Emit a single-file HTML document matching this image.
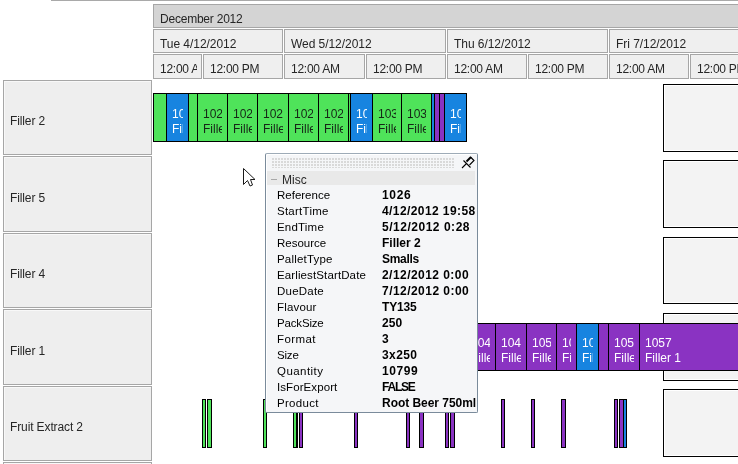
<!DOCTYPE html>
<html><head><meta charset="utf-8"><style>
html,body{margin:0;padding:0;}
body{width:738px;height:464px;overflow:hidden;position:relative;background:#fff;font-family:"Liberation Sans", sans-serif;}
.t{will-change:transform;}
</style></head><body>
<div style="position:absolute;left:51px;top:0;width:687px;height:1px;background:#a9a9a9"></div>
<div style="position:absolute;left:153px;top:4px;width:608px;height:24px;box-sizing:border-box;background:#d4d4d4;border:1px solid #a6a6a6;"></div>
<div class="t" style="position:absolute;left:160px;top:12px;height:14px;line-height:14px;font-size:12px;color:#262626;font-weight:normal;white-space:nowrap;letter-spacing:-0.22px;">December 2012</div>
<div style="position:absolute;left:153px;top:29px;width:130px;height:24px;box-sizing:border-box;background:#efefef;border:1px solid #a6a6a6;"></div>
<div class="t" style="position:absolute;left:160px;top:37px;height:14px;line-height:14px;font-size:12px;color:#262626;font-weight:normal;white-space:nowrap;letter-spacing:-0.05px;width:119px;overflow:hidden;">Tue 4/12/2012</div>
<div style="position:absolute;left:284px;top:29px;width:162px;height:24px;box-sizing:border-box;background:#efefef;border:1px solid #a6a6a6;"></div>
<div class="t" style="position:absolute;left:291px;top:37px;height:14px;line-height:14px;font-size:12px;color:#262626;font-weight:normal;white-space:nowrap;letter-spacing:-0.05px;width:151px;overflow:hidden;">Wed 5/12/2012</div>
<div style="position:absolute;left:447px;top:29px;width:161px;height:24px;box-sizing:border-box;background:#efefef;border:1px solid #a6a6a6;"></div>
<div class="t" style="position:absolute;left:454px;top:37px;height:14px;line-height:14px;font-size:12px;color:#262626;font-weight:normal;white-space:nowrap;letter-spacing:-0.05px;width:150px;overflow:hidden;">Thu 6/12/2012</div>
<div style="position:absolute;left:609px;top:29px;width:192px;height:24px;box-sizing:border-box;background:#efefef;border:1px solid #a6a6a6;"></div>
<div class="t" style="position:absolute;left:616px;top:37px;height:14px;line-height:14px;font-size:12px;color:#262626;font-weight:normal;white-space:nowrap;letter-spacing:-0.05px;width:181px;overflow:hidden;">Fri 7/12/2012</div>
<div style="position:absolute;left:153px;top:54px;width:49px;height:25px;box-sizing:border-box;background:#efefef;border:1px solid #a6a6a6;"></div>
<div class="t" style="position:absolute;left:160px;top:62px;height:14px;line-height:14px;font-size:12px;color:#262626;font-weight:normal;white-space:nowrap;letter-spacing:-0.25px;width:37px;overflow:hidden;">12:00 AM</div>
<div style="position:absolute;left:203px;top:54px;width:80px;height:25px;box-sizing:border-box;background:#efefef;border:1px solid #a6a6a6;"></div>
<div class="t" style="position:absolute;left:210px;top:62px;height:14px;line-height:14px;font-size:12px;color:#262626;font-weight:normal;white-space:nowrap;letter-spacing:-0.25px;width:68px;overflow:hidden;">12:00 PM</div>
<div style="position:absolute;left:284px;top:54px;width:81px;height:25px;box-sizing:border-box;background:#efefef;border:1px solid #a6a6a6;"></div>
<div class="t" style="position:absolute;left:291px;top:62px;height:14px;line-height:14px;font-size:12px;color:#262626;font-weight:normal;white-space:nowrap;letter-spacing:-0.25px;width:69px;overflow:hidden;">12:00 AM</div>
<div style="position:absolute;left:366px;top:54px;width:80px;height:25px;box-sizing:border-box;background:#efefef;border:1px solid #a6a6a6;"></div>
<div class="t" style="position:absolute;left:373px;top:62px;height:14px;line-height:14px;font-size:12px;color:#262626;font-weight:normal;white-space:nowrap;letter-spacing:-0.25px;width:68px;overflow:hidden;">12:00 PM</div>
<div style="position:absolute;left:447px;top:54px;width:80px;height:25px;box-sizing:border-box;background:#efefef;border:1px solid #a6a6a6;"></div>
<div class="t" style="position:absolute;left:454px;top:62px;height:14px;line-height:14px;font-size:12px;color:#262626;font-weight:normal;white-space:nowrap;letter-spacing:-0.25px;width:68px;overflow:hidden;">12:00 AM</div>
<div style="position:absolute;left:528px;top:54px;width:80px;height:25px;box-sizing:border-box;background:#efefef;border:1px solid #a6a6a6;"></div>
<div class="t" style="position:absolute;left:535px;top:62px;height:14px;line-height:14px;font-size:12px;color:#262626;font-weight:normal;white-space:nowrap;letter-spacing:-0.25px;width:68px;overflow:hidden;">12:00 PM</div>
<div style="position:absolute;left:609px;top:54px;width:80px;height:25px;box-sizing:border-box;background:#efefef;border:1px solid #a6a6a6;"></div>
<div class="t" style="position:absolute;left:616px;top:62px;height:14px;line-height:14px;font-size:12px;color:#262626;font-weight:normal;white-space:nowrap;letter-spacing:-0.25px;width:68px;overflow:hidden;">12:00 AM</div>
<div style="position:absolute;left:690px;top:54px;width:111px;height:25px;box-sizing:border-box;background:#efefef;border:1px solid #a6a6a6;"></div>
<div class="t" style="position:absolute;left:697px;top:62px;height:14px;line-height:14px;font-size:12px;color:#262626;font-weight:normal;white-space:nowrap;letter-spacing:-0.25px;width:99px;overflow:hidden;">12:00 PM</div>
<div style="position:absolute;left:3px;top:80px;width:149px;height:75px;box-sizing:border-box;background:#eeeeee;border:1px solid #a6a6a6;box-shadow:inset 1px 1px 0 #f8f8f8"></div>
<div class="t" style="position:absolute;left:10px;top:114px;height:14px;line-height:14px;font-size:12px;color:#262626;font-weight:normal;white-space:nowrap;letter-spacing:-0.12px;">Filler 2</div>
<div style="position:absolute;left:3px;top:156px;width:149px;height:76px;box-sizing:border-box;background:#eeeeee;border:1px solid #a6a6a6;box-shadow:inset 1px 1px 0 #f8f8f8"></div>
<div class="t" style="position:absolute;left:10px;top:191px;height:14px;line-height:14px;font-size:12px;color:#262626;font-weight:normal;white-space:nowrap;letter-spacing:-0.12px;">Filler 5</div>
<div style="position:absolute;left:3px;top:233px;width:149px;height:75px;box-sizing:border-box;background:#eeeeee;border:1px solid #a6a6a6;box-shadow:inset 1px 1px 0 #f8f8f8"></div>
<div class="t" style="position:absolute;left:10px;top:267px;height:14px;line-height:14px;font-size:12px;color:#262626;font-weight:normal;white-space:nowrap;letter-spacing:-0.12px;">Filler 4</div>
<div style="position:absolute;left:3px;top:309px;width:149px;height:76px;box-sizing:border-box;background:#eeeeee;border:1px solid #a6a6a6;box-shadow:inset 1px 1px 0 #f8f8f8"></div>
<div class="t" style="position:absolute;left:10px;top:344px;height:14px;line-height:14px;font-size:12px;color:#262626;font-weight:normal;white-space:nowrap;letter-spacing:-0.12px;">Filler 1</div>
<div style="position:absolute;left:3px;top:386px;width:149px;height:75px;box-sizing:border-box;background:#eeeeee;border:1px solid #a6a6a6;box-shadow:inset 1px 1px 0 #f8f8f8"></div>
<div class="t" style="position:absolute;left:10px;top:420px;height:14px;line-height:14px;font-size:12px;color:#262626;font-weight:normal;white-space:nowrap;letter-spacing:-0.12px;">Fruit Extract 2</div>
<div style="position:absolute;left:3px;top:462px;width:149px;height:79px;box-sizing:border-box;background:#eeeeee;border:1px solid #a6a6a6;box-shadow:inset 1px 1px 0 #f8f8f8"></div>
<div style="position:absolute;left:663px;top:84px;width:138px;height:68px;box-sizing:border-box;background:#f3f3f3;border:1px solid #000;box-shadow:inset 1px 1px 0 #fff,inset -1px -1px 0 #fff"></div>
<div style="position:absolute;left:663px;top:160px;width:138px;height:68px;box-sizing:border-box;background:#f3f3f3;border:1px solid #000;box-shadow:inset 1px 1px 0 #fff,inset -1px -1px 0 #fff"></div>
<div style="position:absolute;left:663px;top:237px;width:138px;height:67px;box-sizing:border-box;background:#f3f3f3;border:1px solid #000;box-shadow:inset 1px 1px 0 #fff,inset -1px -1px 0 #fff"></div>
<div style="position:absolute;left:663px;top:313px;width:138px;height:68px;box-sizing:border-box;background:#f3f3f3;border:1px solid #000;box-shadow:inset 1px 1px 0 #fff,inset -1px -1px 0 #fff"></div>
<div style="position:absolute;left:663px;top:389px;width:138px;height:68px;box-sizing:border-box;background:#f3f3f3;border:1px solid #000;box-shadow:inset 1px 1px 0 #fff,inset -1px -1px 0 #fff"></div>
<div style="position:absolute;left:153px;top:93px;width:14px;height:49px;box-sizing:border-box;background:#4fe35a;border:1px solid #000;"></div>
<div style="position:absolute;left:166px;top:93px;width:23px;height:49px;box-sizing:border-box;background:#1784e0;border:1px solid #000;"></div>
<div class="t" style="position:absolute;left:172px;top:107px;height:14px;line-height:14px;font-size:12px;color:#fff;font-weight:normal;white-space:nowrap;letter-spacing:0px;width:11px;overflow:hidden;">1026</div>
<div class="t" style="position:absolute;left:172px;top:122px;height:14px;line-height:14px;font-size:12px;color:#fff;font-weight:normal;white-space:nowrap;letter-spacing:0px;width:11px;overflow:hidden;">Filler 2</div>
<div style="position:absolute;left:188px;top:93px;width:10px;height:49px;box-sizing:border-box;background:#4fe35a;border:1px solid #000;"></div>
<div style="position:absolute;left:197px;top:93px;width:31px;height:49px;box-sizing:border-box;background:#4fe35a;border:1px solid #000;"></div>
<div class="t" style="position:absolute;left:203px;top:107px;height:14px;line-height:14px;font-size:12px;color:#172617;font-weight:normal;white-space:nowrap;letter-spacing:0px;width:19px;overflow:hidden;">1027</div>
<div class="t" style="position:absolute;left:203px;top:122px;height:14px;line-height:14px;font-size:12px;color:#172617;font-weight:normal;white-space:nowrap;letter-spacing:0px;width:19px;overflow:hidden;">Filler 2</div>
<div style="position:absolute;left:227px;top:93px;width:31px;height:49px;box-sizing:border-box;background:#4fe35a;border:1px solid #000;"></div>
<div class="t" style="position:absolute;left:233px;top:107px;height:14px;line-height:14px;font-size:12px;color:#172617;font-weight:normal;white-space:nowrap;letter-spacing:0px;width:19px;overflow:hidden;">1028</div>
<div class="t" style="position:absolute;left:233px;top:122px;height:14px;line-height:14px;font-size:12px;color:#172617;font-weight:normal;white-space:nowrap;letter-spacing:0px;width:19px;overflow:hidden;">Filler 2</div>
<div style="position:absolute;left:257px;top:93px;width:32px;height:49px;box-sizing:border-box;background:#4fe35a;border:1px solid #000;"></div>
<div class="t" style="position:absolute;left:263px;top:107px;height:14px;line-height:14px;font-size:12px;color:#172617;font-weight:normal;white-space:nowrap;letter-spacing:0px;width:20px;overflow:hidden;">1029</div>
<div class="t" style="position:absolute;left:263px;top:122px;height:14px;line-height:14px;font-size:12px;color:#172617;font-weight:normal;white-space:nowrap;letter-spacing:0px;width:20px;overflow:hidden;">Filler 2</div>
<div style="position:absolute;left:288px;top:93px;width:31px;height:49px;box-sizing:border-box;background:#4fe35a;border:1px solid #000;"></div>
<div class="t" style="position:absolute;left:294px;top:107px;height:14px;line-height:14px;font-size:12px;color:#172617;font-weight:normal;white-space:nowrap;letter-spacing:0px;width:19px;overflow:hidden;">1020</div>
<div class="t" style="position:absolute;left:294px;top:122px;height:14px;line-height:14px;font-size:12px;color:#172617;font-weight:normal;white-space:nowrap;letter-spacing:0px;width:19px;overflow:hidden;">Filler 2</div>
<div style="position:absolute;left:318px;top:93px;width:31px;height:49px;box-sizing:border-box;background:#4fe35a;border:1px solid #000;"></div>
<div class="t" style="position:absolute;left:324px;top:107px;height:14px;line-height:14px;font-size:12px;color:#172617;font-weight:normal;white-space:nowrap;letter-spacing:0px;width:19px;overflow:hidden;">1021</div>
<div class="t" style="position:absolute;left:324px;top:122px;height:14px;line-height:14px;font-size:12px;color:#172617;font-weight:normal;white-space:nowrap;letter-spacing:0px;width:19px;overflow:hidden;">Filler 2</div>
<div style="position:absolute;left:348px;top:93px;width:3px;height:49px;box-sizing:border-box;background:#4fe35a;border:1px solid #000;"></div>
<div style="position:absolute;left:350px;top:93px;width:23px;height:49px;box-sizing:border-box;background:#1784e0;border:1px solid #000;"></div>
<div class="t" style="position:absolute;left:356px;top:107px;height:14px;line-height:14px;font-size:12px;color:#fff;font-weight:normal;white-space:nowrap;letter-spacing:0px;width:11px;overflow:hidden;">1030</div>
<div class="t" style="position:absolute;left:356px;top:122px;height:14px;line-height:14px;font-size:12px;color:#fff;font-weight:normal;white-space:nowrap;letter-spacing:0px;width:11px;overflow:hidden;">Filler 2</div>
<div style="position:absolute;left:372px;top:93px;width:30px;height:49px;box-sizing:border-box;background:#4fe35a;border:1px solid #000;"></div>
<div class="t" style="position:absolute;left:378px;top:107px;height:14px;line-height:14px;font-size:12px;color:#172617;font-weight:normal;white-space:nowrap;letter-spacing:0px;width:18px;overflow:hidden;">1031</div>
<div class="t" style="position:absolute;left:378px;top:122px;height:14px;line-height:14px;font-size:12px;color:#172617;font-weight:normal;white-space:nowrap;letter-spacing:0px;width:18px;overflow:hidden;">Filler 2</div>
<div style="position:absolute;left:401px;top:93px;width:31px;height:49px;box-sizing:border-box;background:#4fe35a;border:1px solid #000;"></div>
<div class="t" style="position:absolute;left:407px;top:107px;height:14px;line-height:14px;font-size:12px;color:#172617;font-weight:normal;white-space:nowrap;letter-spacing:0px;width:19px;overflow:hidden;">1032</div>
<div class="t" style="position:absolute;left:407px;top:122px;height:14px;line-height:14px;font-size:12px;color:#172617;font-weight:normal;white-space:nowrap;letter-spacing:0px;width:19px;overflow:hidden;">Filler 2</div>
<div style="position:absolute;left:431px;top:93px;width:4px;height:49px;box-sizing:border-box;background:#1784e0;border:1px solid #000;"></div>
<div style="position:absolute;left:434px;top:93px;width:6px;height:49px;box-sizing:border-box;background:#8a33c2;border:1px solid #000;"></div>
<div style="position:absolute;left:439px;top:93px;width:6px;height:49px;box-sizing:border-box;background:#8a33c2;border:1px solid #000;"></div>
<div style="position:absolute;left:444px;top:93px;width:23px;height:49px;box-sizing:border-box;background:#1784e0;border:1px solid #000;"></div>
<div class="t" style="position:absolute;left:450px;top:107px;height:14px;line-height:14px;font-size:12px;color:#fff;font-weight:normal;white-space:nowrap;letter-spacing:0px;width:11px;overflow:hidden;">1033</div>
<div class="t" style="position:absolute;left:450px;top:122px;height:14px;line-height:14px;font-size:12px;color:#fff;font-weight:normal;white-space:nowrap;letter-spacing:0px;width:11px;overflow:hidden;">Filler 2</div>
<div style="position:absolute;left:300px;top:323px;width:166px;height:48px;box-sizing:border-box;background:#8a33c2;border:1px solid #000;"></div>
<div class="t" style="position:absolute;left:306px;top:336px;height:14px;line-height:14px;font-size:12px;color:#fff;font-weight:normal;white-space:nowrap;letter-spacing:0px;width:154px;overflow:hidden;">1040</div>
<div class="t" style="position:absolute;left:306px;top:351px;height:14px;line-height:14px;font-size:12px;color:#fff;font-weight:normal;white-space:nowrap;letter-spacing:0px;width:154px;overflow:hidden;">Filler 1</div>
<div style="position:absolute;left:465px;top:323px;width:31px;height:48px;box-sizing:border-box;background:#8a33c2;border:1px solid #000;"></div>
<div class="t" style="position:absolute;left:471px;top:336px;height:14px;line-height:14px;font-size:12px;color:#fff;font-weight:normal;white-space:nowrap;letter-spacing:0px;width:19px;overflow:hidden;">1041</div>
<div class="t" style="position:absolute;left:471px;top:351px;height:14px;line-height:14px;font-size:12px;color:#fff;font-weight:normal;white-space:nowrap;letter-spacing:0px;width:19px;overflow:hidden;">Filler 1</div>
<div style="position:absolute;left:495px;top:323px;width:32px;height:48px;box-sizing:border-box;background:#8a33c2;border:1px solid #000;"></div>
<div class="t" style="position:absolute;left:501px;top:336px;height:14px;line-height:14px;font-size:12px;color:#fff;font-weight:normal;white-space:nowrap;letter-spacing:0px;width:20px;overflow:hidden;">1042</div>
<div class="t" style="position:absolute;left:501px;top:351px;height:14px;line-height:14px;font-size:12px;color:#fff;font-weight:normal;white-space:nowrap;letter-spacing:0px;width:20px;overflow:hidden;">Filler 1</div>
<div style="position:absolute;left:526px;top:323px;width:31px;height:48px;box-sizing:border-box;background:#8a33c2;border:1px solid #000;"></div>
<div class="t" style="position:absolute;left:532px;top:336px;height:14px;line-height:14px;font-size:12px;color:#fff;font-weight:normal;white-space:nowrap;letter-spacing:0px;width:19px;overflow:hidden;">1050</div>
<div class="t" style="position:absolute;left:532px;top:351px;height:14px;line-height:14px;font-size:12px;color:#fff;font-weight:normal;white-space:nowrap;letter-spacing:0px;width:19px;overflow:hidden;">Filler 1</div>
<div style="position:absolute;left:556px;top:323px;width:21px;height:48px;box-sizing:border-box;background:#8a33c2;border:1px solid #000;"></div>
<div class="t" style="position:absolute;left:562px;top:336px;height:14px;line-height:14px;font-size:12px;color:#fff;font-weight:normal;white-space:nowrap;letter-spacing:0px;width:9px;overflow:hidden;">1051</div>
<div class="t" style="position:absolute;left:562px;top:351px;height:14px;line-height:14px;font-size:12px;color:#fff;font-weight:normal;white-space:nowrap;letter-spacing:0px;width:9px;overflow:hidden;">Filler 1</div>
<div style="position:absolute;left:576px;top:323px;width:23px;height:48px;box-sizing:border-box;background:#1784e0;border:1px solid #000;"></div>
<div class="t" style="position:absolute;left:582px;top:336px;height:14px;line-height:14px;font-size:12px;color:#fff;font-weight:normal;white-space:nowrap;letter-spacing:0px;width:11px;overflow:hidden;">1052</div>
<div class="t" style="position:absolute;left:582px;top:351px;height:14px;line-height:14px;font-size:12px;color:#fff;font-weight:normal;white-space:nowrap;letter-spacing:0px;width:11px;overflow:hidden;">Filler 1</div>
<div style="position:absolute;left:598px;top:323px;width:11px;height:48px;box-sizing:border-box;background:#8a33c2;border:1px solid #000;"></div>
<div style="position:absolute;left:608px;top:323px;width:32px;height:48px;box-sizing:border-box;background:#8a33c2;border:1px solid #000;"></div>
<div class="t" style="position:absolute;left:614px;top:336px;height:14px;line-height:14px;font-size:12px;color:#fff;font-weight:normal;white-space:nowrap;letter-spacing:0px;width:20px;overflow:hidden;">1053</div>
<div class="t" style="position:absolute;left:614px;top:351px;height:14px;line-height:14px;font-size:12px;color:#fff;font-weight:normal;white-space:nowrap;letter-spacing:0px;width:20px;overflow:hidden;">Filler 1</div>
<div style="position:absolute;left:639px;top:323px;width:162px;height:48px;box-sizing:border-box;background:#8a33c2;border:1px solid #000;"></div>
<div class="t" style="position:absolute;left:645px;top:336px;height:14px;line-height:14px;font-size:12px;color:#fff;font-weight:normal;white-space:nowrap;letter-spacing:0px;width:150px;overflow:hidden;">1057</div>
<div class="t" style="position:absolute;left:645px;top:351px;height:14px;line-height:14px;font-size:12px;color:#fff;font-weight:normal;white-space:nowrap;letter-spacing:0px;width:150px;overflow:hidden;">Filler 1</div>
<div style="position:absolute;left:202px;top:399px;width:4px;height:49px;box-sizing:border-box;background:#4fe35a;border:1px solid #000;"></div>
<div style="position:absolute;left:207px;top:399px;width:5px;height:49px;box-sizing:border-box;background:#4fe35a;border:1px solid #000;"></div>
<div style="position:absolute;left:263px;top:399px;width:4px;height:49px;box-sizing:border-box;background:#4fe35a;border:1px solid #000;"></div>
<div style="position:absolute;left:293px;top:399px;width:5px;height:49px;box-sizing:border-box;background:#4fe35a;border:1px solid #000;"></div>
<div style="position:absolute;left:296px;top:399px;width:2px;height:49px;box-sizing:border-box;background:#4fe35a;border:1px solid #000;"></div>
<div style="position:absolute;left:299px;top:399px;width:4px;height:49px;box-sizing:border-box;background:#8a33c2;border:1px solid #000;"></div>
<div style="position:absolute;left:354px;top:399px;width:4px;height:49px;box-sizing:border-box;background:#8a33c2;border:1px solid #000;"></div>
<div style="position:absolute;left:406px;top:399px;width:4px;height:49px;box-sizing:border-box;background:#8a33c2;border:1px solid #000;"></div>
<div style="position:absolute;left:419px;top:399px;width:5px;height:49px;box-sizing:border-box;background:#8a33c2;border:1px solid #000;"></div>
<div style="position:absolute;left:445px;top:399px;width:4px;height:49px;box-sizing:border-box;background:#8a33c2;border:1px solid #000;"></div>
<div style="position:absolute;left:450px;top:399px;width:5px;height:49px;box-sizing:border-box;background:#8a33c2;border:1px solid #000;"></div>
<div style="position:absolute;left:501px;top:399px;width:4px;height:49px;box-sizing:border-box;background:#8a33c2;border:1px solid #000;"></div>
<div style="position:absolute;left:531px;top:399px;width:4px;height:49px;box-sizing:border-box;background:#8a33c2;border:1px solid #000;"></div>
<div style="position:absolute;left:561px;top:399px;width:5px;height:49px;box-sizing:border-box;background:#8a33c2;border:1px solid #000;"></div>
<div style="position:absolute;left:614px;top:399px;width:4px;height:49px;box-sizing:border-box;background:#8a33c2;border:1px solid #000;"></div>
<div style="position:absolute;left:619px;top:399px;width:5px;height:49px;box-sizing:border-box;background:#8a33c2;border:1px solid #000;"></div>
<div style="position:absolute;left:623px;top:399px;width:4px;height:49px;box-sizing:border-box;background:#1784e0;border:1px solid #000;"></div>
<div style="position:absolute;left:265px;top:153px;width:213px;height:260px;box-sizing:border-box;background:#f5f6f8;border:1px solid #7a8b9b;border-top-color:#9eabb7;border-radius:2px;box-shadow:inset 1px 1px 0 #fff"></div>
<svg style="position:absolute;left:0;top:0" width="738" height="464" viewBox="0 0 738 464"><g fill="#d9d9d9"><rect x="272" y="158" width="2" height="2"/><rect x="275" y="158" width="2" height="2"/><rect x="278" y="158" width="2" height="2"/><rect x="281" y="158" width="2" height="2"/><rect x="284" y="158" width="2" height="2"/><rect x="287" y="158" width="2" height="2"/><rect x="290" y="158" width="2" height="2"/><rect x="293" y="158" width="2" height="2"/><rect x="296" y="158" width="2" height="2"/><rect x="299" y="158" width="2" height="2"/><rect x="302" y="158" width="2" height="2"/><rect x="305" y="158" width="2" height="2"/><rect x="308" y="158" width="2" height="2"/><rect x="311" y="158" width="2" height="2"/><rect x="314" y="158" width="2" height="2"/><rect x="317" y="158" width="2" height="2"/><rect x="320" y="158" width="2" height="2"/><rect x="323" y="158" width="2" height="2"/><rect x="326" y="158" width="2" height="2"/><rect x="329" y="158" width="2" height="2"/><rect x="332" y="158" width="2" height="2"/><rect x="335" y="158" width="2" height="2"/><rect x="338" y="158" width="2" height="2"/><rect x="341" y="158" width="2" height="2"/><rect x="344" y="158" width="2" height="2"/><rect x="347" y="158" width="2" height="2"/><rect x="350" y="158" width="2" height="2"/><rect x="353" y="158" width="2" height="2"/><rect x="356" y="158" width="2" height="2"/><rect x="359" y="158" width="2" height="2"/><rect x="362" y="158" width="2" height="2"/><rect x="365" y="158" width="2" height="2"/><rect x="368" y="158" width="2" height="2"/><rect x="371" y="158" width="2" height="2"/><rect x="374" y="158" width="2" height="2"/><rect x="377" y="158" width="2" height="2"/><rect x="380" y="158" width="2" height="2"/><rect x="383" y="158" width="2" height="2"/><rect x="386" y="158" width="2" height="2"/><rect x="389" y="158" width="2" height="2"/><rect x="392" y="158" width="2" height="2"/><rect x="395" y="158" width="2" height="2"/><rect x="398" y="158" width="2" height="2"/><rect x="401" y="158" width="2" height="2"/><rect x="404" y="158" width="2" height="2"/><rect x="407" y="158" width="2" height="2"/><rect x="410" y="158" width="2" height="2"/><rect x="413" y="158" width="2" height="2"/><rect x="416" y="158" width="2" height="2"/><rect x="419" y="158" width="2" height="2"/><rect x="422" y="158" width="2" height="2"/><rect x="425" y="158" width="2" height="2"/><rect x="428" y="158" width="2" height="2"/><rect x="431" y="158" width="2" height="2"/><rect x="434" y="158" width="2" height="2"/><rect x="437" y="158" width="2" height="2"/><rect x="440" y="158" width="2" height="2"/><rect x="443" y="158" width="2" height="2"/><rect x="446" y="158" width="2" height="2"/><rect x="449" y="158" width="2" height="2"/><rect x="452" y="158" width="2" height="2"/><rect x="272" y="161" width="2" height="2"/><rect x="275" y="161" width="2" height="2"/><rect x="278" y="161" width="2" height="2"/><rect x="281" y="161" width="2" height="2"/><rect x="284" y="161" width="2" height="2"/><rect x="287" y="161" width="2" height="2"/><rect x="290" y="161" width="2" height="2"/><rect x="293" y="161" width="2" height="2"/><rect x="296" y="161" width="2" height="2"/><rect x="299" y="161" width="2" height="2"/><rect x="302" y="161" width="2" height="2"/><rect x="305" y="161" width="2" height="2"/><rect x="308" y="161" width="2" height="2"/><rect x="311" y="161" width="2" height="2"/><rect x="314" y="161" width="2" height="2"/><rect x="317" y="161" width="2" height="2"/><rect x="320" y="161" width="2" height="2"/><rect x="323" y="161" width="2" height="2"/><rect x="326" y="161" width="2" height="2"/><rect x="329" y="161" width="2" height="2"/><rect x="332" y="161" width="2" height="2"/><rect x="335" y="161" width="2" height="2"/><rect x="338" y="161" width="2" height="2"/><rect x="341" y="161" width="2" height="2"/><rect x="344" y="161" width="2" height="2"/><rect x="347" y="161" width="2" height="2"/><rect x="350" y="161" width="2" height="2"/><rect x="353" y="161" width="2" height="2"/><rect x="356" y="161" width="2" height="2"/><rect x="359" y="161" width="2" height="2"/><rect x="362" y="161" width="2" height="2"/><rect x="365" y="161" width="2" height="2"/><rect x="368" y="161" width="2" height="2"/><rect x="371" y="161" width="2" height="2"/><rect x="374" y="161" width="2" height="2"/><rect x="377" y="161" width="2" height="2"/><rect x="380" y="161" width="2" height="2"/><rect x="383" y="161" width="2" height="2"/><rect x="386" y="161" width="2" height="2"/><rect x="389" y="161" width="2" height="2"/><rect x="392" y="161" width="2" height="2"/><rect x="395" y="161" width="2" height="2"/><rect x="398" y="161" width="2" height="2"/><rect x="401" y="161" width="2" height="2"/><rect x="404" y="161" width="2" height="2"/><rect x="407" y="161" width="2" height="2"/><rect x="410" y="161" width="2" height="2"/><rect x="413" y="161" width="2" height="2"/><rect x="416" y="161" width="2" height="2"/><rect x="419" y="161" width="2" height="2"/><rect x="422" y="161" width="2" height="2"/><rect x="425" y="161" width="2" height="2"/><rect x="428" y="161" width="2" height="2"/><rect x="431" y="161" width="2" height="2"/><rect x="434" y="161" width="2" height="2"/><rect x="437" y="161" width="2" height="2"/><rect x="440" y="161" width="2" height="2"/><rect x="443" y="161" width="2" height="2"/><rect x="446" y="161" width="2" height="2"/><rect x="449" y="161" width="2" height="2"/><rect x="452" y="161" width="2" height="2"/><rect x="272" y="164" width="2" height="2"/><rect x="275" y="164" width="2" height="2"/><rect x="278" y="164" width="2" height="2"/><rect x="281" y="164" width="2" height="2"/><rect x="284" y="164" width="2" height="2"/><rect x="287" y="164" width="2" height="2"/><rect x="290" y="164" width="2" height="2"/><rect x="293" y="164" width="2" height="2"/><rect x="296" y="164" width="2" height="2"/><rect x="299" y="164" width="2" height="2"/><rect x="302" y="164" width="2" height="2"/><rect x="305" y="164" width="2" height="2"/><rect x="308" y="164" width="2" height="2"/><rect x="311" y="164" width="2" height="2"/><rect x="314" y="164" width="2" height="2"/><rect x="317" y="164" width="2" height="2"/><rect x="320" y="164" width="2" height="2"/><rect x="323" y="164" width="2" height="2"/><rect x="326" y="164" width="2" height="2"/><rect x="329" y="164" width="2" height="2"/><rect x="332" y="164" width="2" height="2"/><rect x="335" y="164" width="2" height="2"/><rect x="338" y="164" width="2" height="2"/><rect x="341" y="164" width="2" height="2"/><rect x="344" y="164" width="2" height="2"/><rect x="347" y="164" width="2" height="2"/><rect x="350" y="164" width="2" height="2"/><rect x="353" y="164" width="2" height="2"/><rect x="356" y="164" width="2" height="2"/><rect x="359" y="164" width="2" height="2"/><rect x="362" y="164" width="2" height="2"/><rect x="365" y="164" width="2" height="2"/><rect x="368" y="164" width="2" height="2"/><rect x="371" y="164" width="2" height="2"/><rect x="374" y="164" width="2" height="2"/><rect x="377" y="164" width="2" height="2"/><rect x="380" y="164" width="2" height="2"/><rect x="383" y="164" width="2" height="2"/><rect x="386" y="164" width="2" height="2"/><rect x="389" y="164" width="2" height="2"/><rect x="392" y="164" width="2" height="2"/><rect x="395" y="164" width="2" height="2"/><rect x="398" y="164" width="2" height="2"/><rect x="401" y="164" width="2" height="2"/><rect x="404" y="164" width="2" height="2"/><rect x="407" y="164" width="2" height="2"/><rect x="410" y="164" width="2" height="2"/><rect x="413" y="164" width="2" height="2"/><rect x="416" y="164" width="2" height="2"/><rect x="419" y="164" width="2" height="2"/><rect x="422" y="164" width="2" height="2"/><rect x="425" y="164" width="2" height="2"/><rect x="428" y="164" width="2" height="2"/><rect x="431" y="164" width="2" height="2"/><rect x="434" y="164" width="2" height="2"/><rect x="437" y="164" width="2" height="2"/><rect x="440" y="164" width="2" height="2"/><rect x="443" y="164" width="2" height="2"/><rect x="446" y="164" width="2" height="2"/><rect x="449" y="164" width="2" height="2"/><rect x="452" y="164" width="2" height="2"/><rect x="272" y="167" width="2" height="1"/><rect x="275" y="167" width="2" height="1"/><rect x="278" y="167" width="2" height="1"/><rect x="281" y="167" width="2" height="1"/><rect x="284" y="167" width="2" height="1"/><rect x="287" y="167" width="2" height="1"/><rect x="290" y="167" width="2" height="1"/><rect x="293" y="167" width="2" height="1"/><rect x="296" y="167" width="2" height="1"/><rect x="299" y="167" width="2" height="1"/><rect x="302" y="167" width="2" height="1"/><rect x="305" y="167" width="2" height="1"/><rect x="308" y="167" width="2" height="1"/><rect x="311" y="167" width="2" height="1"/><rect x="314" y="167" width="2" height="1"/><rect x="317" y="167" width="2" height="1"/><rect x="320" y="167" width="2" height="1"/><rect x="323" y="167" width="2" height="1"/><rect x="326" y="167" width="2" height="1"/><rect x="329" y="167" width="2" height="1"/><rect x="332" y="167" width="2" height="1"/><rect x="335" y="167" width="2" height="1"/><rect x="338" y="167" width="2" height="1"/><rect x="341" y="167" width="2" height="1"/><rect x="344" y="167" width="2" height="1"/><rect x="347" y="167" width="2" height="1"/><rect x="350" y="167" width="2" height="1"/><rect x="353" y="167" width="2" height="1"/><rect x="356" y="167" width="2" height="1"/><rect x="359" y="167" width="2" height="1"/><rect x="362" y="167" width="2" height="1"/><rect x="365" y="167" width="2" height="1"/><rect x="368" y="167" width="2" height="1"/><rect x="371" y="167" width="2" height="1"/><rect x="374" y="167" width="2" height="1"/><rect x="377" y="167" width="2" height="1"/><rect x="380" y="167" width="2" height="1"/><rect x="383" y="167" width="2" height="1"/><rect x="386" y="167" width="2" height="1"/><rect x="389" y="167" width="2" height="1"/><rect x="392" y="167" width="2" height="1"/><rect x="395" y="167" width="2" height="1"/><rect x="398" y="167" width="2" height="1"/><rect x="401" y="167" width="2" height="1"/><rect x="404" y="167" width="2" height="1"/><rect x="407" y="167" width="2" height="1"/><rect x="410" y="167" width="2" height="1"/><rect x="413" y="167" width="2" height="1"/><rect x="416" y="167" width="2" height="1"/><rect x="419" y="167" width="2" height="1"/><rect x="422" y="167" width="2" height="1"/><rect x="425" y="167" width="2" height="1"/><rect x="428" y="167" width="2" height="1"/><rect x="431" y="167" width="2" height="1"/><rect x="434" y="167" width="2" height="1"/><rect x="437" y="167" width="2" height="1"/><rect x="440" y="167" width="2" height="1"/><rect x="443" y="167" width="2" height="1"/><rect x="446" y="167" width="2" height="1"/><rect x="449" y="167" width="2" height="1"/><rect x="452" y="167" width="2" height="1"/></g></svg>
<svg style="position:absolute;left:0;top:0" width="738" height="464" viewBox="0 0 738 464" fill="none" stroke="#000" stroke-width="1.1"><path d="M462 168 L466.5 163.5"/><path d="M463.5 160.5 L470.5 167.5"/><path d="M470.5 157 L474 160.5 L469.5 165"/><path d="M466.5 161.5 L471 157" stroke-width="2"/></svg>
<div style="position:absolute;left:267px;top:171px;width:208px;height:14px;background:#e9e9e9"></div>
<div style="position:absolute;left:271px;top:179px;width:6px;height:1px;background:#a8a8a8"></div>
<div class="t" style="position:absolute;left:281.5px;top:173px;height:14px;line-height:14px;font-size:12px;color:#2a2a2a;font-weight:normal;white-space:nowrap;letter-spacing:0px;">Misc</div>
<div class="t" style="position:absolute;left:277px;top:188px;height:14px;line-height:14px;font-size:11.5px;color:#000;font-weight:normal;white-space:nowrap;letter-spacing:0px;">Reference</div>
<div class="t" style="position:absolute;left:382px;top:188px;height:14px;line-height:14px;font-size:12px;color:#000;font-weight:bold;white-space:nowrap;letter-spacing:0.67px;width:94px;overflow:hidden;">1026</div>
<div class="t" style="position:absolute;left:277px;top:204px;height:14px;line-height:14px;font-size:11.5px;color:#000;font-weight:normal;white-space:nowrap;letter-spacing:0.25px;">StartTime</div>
<div class="t" style="position:absolute;left:382px;top:204px;height:14px;line-height:14px;font-size:12px;color:#000;font-weight:bold;white-space:nowrap;letter-spacing:0.41px;width:94px;overflow:hidden;">4/12/2012 19:58</div>
<div class="t" style="position:absolute;left:277px;top:220px;height:14px;line-height:14px;font-size:11.5px;color:#000;font-weight:normal;white-space:nowrap;letter-spacing:0.2px;">EndTime</div>
<div class="t" style="position:absolute;left:382px;top:220px;height:14px;line-height:14px;font-size:12px;color:#000;font-weight:bold;white-space:nowrap;letter-spacing:0.52px;width:94px;overflow:hidden;">5/12/2012 0:28</div>
<div class="t" style="position:absolute;left:277px;top:236px;height:14px;line-height:14px;font-size:11.5px;color:#000;font-weight:normal;white-space:nowrap;letter-spacing:0px;">Resource</div>
<div class="t" style="position:absolute;left:382px;top:236px;height:14px;line-height:14px;font-size:12px;color:#000;font-weight:bold;white-space:nowrap;letter-spacing:0px;width:94px;overflow:hidden;">Filler 2</div>
<div class="t" style="position:absolute;left:277px;top:252px;height:14px;line-height:14px;font-size:11.5px;color:#000;font-weight:normal;white-space:nowrap;letter-spacing:0.2px;">PalletType</div>
<div class="t" style="position:absolute;left:382px;top:252px;height:14px;line-height:14px;font-size:12px;color:#000;font-weight:bold;white-space:nowrap;letter-spacing:-0.28px;width:94px;overflow:hidden;">Smalls</div>
<div class="t" style="position:absolute;left:277px;top:268px;height:14px;line-height:14px;font-size:11.5px;color:#000;font-weight:normal;white-space:nowrap;letter-spacing:0.12px;">EarliestStartDate</div>
<div class="t" style="position:absolute;left:382px;top:268px;height:14px;line-height:14px;font-size:12px;color:#000;font-weight:bold;white-space:nowrap;letter-spacing:0.45px;width:94px;overflow:hidden;">2/12/2012 0:00</div>
<div class="t" style="position:absolute;left:277px;top:284px;height:14px;line-height:14px;font-size:11.5px;color:#000;font-weight:normal;white-space:nowrap;letter-spacing:0.23px;">DueDate</div>
<div class="t" style="position:absolute;left:382px;top:284px;height:14px;line-height:14px;font-size:12px;color:#000;font-weight:bold;white-space:nowrap;letter-spacing:0.46px;width:94px;overflow:hidden;">7/12/2012 0:00</div>
<div class="t" style="position:absolute;left:277px;top:300px;height:14px;line-height:14px;font-size:11.5px;color:#000;font-weight:normal;white-space:nowrap;letter-spacing:0.18px;">Flavour</div>
<div class="t" style="position:absolute;left:382px;top:300px;height:14px;line-height:14px;font-size:12px;color:#000;font-weight:bold;white-space:nowrap;letter-spacing:-0.2px;width:94px;overflow:hidden;">TY135</div>
<div class="t" style="position:absolute;left:277px;top:316px;height:14px;line-height:14px;font-size:11.5px;color:#000;font-weight:normal;white-space:nowrap;letter-spacing:-0.17px;">PackSize</div>
<div class="t" style="position:absolute;left:382px;top:316px;height:14px;line-height:14px;font-size:12px;color:#000;font-weight:bold;white-space:nowrap;letter-spacing:0.1px;width:94px;overflow:hidden;">250</div>
<div class="t" style="position:absolute;left:277px;top:332px;height:14px;line-height:14px;font-size:11.5px;color:#000;font-weight:normal;white-space:nowrap;letter-spacing:0.4px;">Format</div>
<div class="t" style="position:absolute;left:382px;top:332px;height:14px;line-height:14px;font-size:12px;color:#000;font-weight:bold;white-space:nowrap;letter-spacing:0px;width:94px;overflow:hidden;">3</div>
<div class="t" style="position:absolute;left:277px;top:348px;height:14px;line-height:14px;font-size:11.5px;color:#000;font-weight:normal;white-space:nowrap;letter-spacing:-0.2px;">Size</div>
<div class="t" style="position:absolute;left:382px;top:348px;height:14px;line-height:14px;font-size:12px;color:#000;font-weight:bold;white-space:nowrap;letter-spacing:0.4px;width:94px;overflow:hidden;">3x250</div>
<div class="t" style="position:absolute;left:277px;top:364px;height:14px;line-height:14px;font-size:11.5px;color:#000;font-weight:normal;white-space:nowrap;letter-spacing:0.44px;">Quantity</div>
<div class="t" style="position:absolute;left:382px;top:364px;height:14px;line-height:14px;font-size:12px;color:#000;font-weight:bold;white-space:nowrap;letter-spacing:0.55px;width:94px;overflow:hidden;">10799</div>
<div class="t" style="position:absolute;left:277px;top:380px;height:14px;line-height:14px;font-size:11.5px;color:#000;font-weight:normal;white-space:nowrap;letter-spacing:0.08px;">IsForExport</div>
<div class="t" style="position:absolute;left:382px;top:380px;height:14px;line-height:14px;font-size:12px;color:#000;font-weight:bold;white-space:nowrap;letter-spacing:-1.2px;width:94px;overflow:hidden;">FALSE</div>
<div class="t" style="position:absolute;left:277px;top:396px;height:14px;line-height:14px;font-size:11.5px;color:#000;font-weight:normal;white-space:nowrap;letter-spacing:0.3px;">Product</div>
<div class="t" style="position:absolute;left:382px;top:396px;height:14px;line-height:14px;font-size:12px;color:#000;font-weight:bold;white-space:nowrap;letter-spacing:-0.04px;width:94px;overflow:hidden;">Root Beer 750ml</div>
<svg style="position:absolute;left:0;top:0" width="738" height="464" viewBox="0 0 738 464"><path d="M243.5 168.5 L243.5 184.5 L247.5 180.5 L250 186 L252.5 185 L250.5 179.5 L255 179.5 Z" fill="#fff" stroke="#1a1a1a" stroke-width="1" stroke-linejoin="round"/></svg>
</body></html>
